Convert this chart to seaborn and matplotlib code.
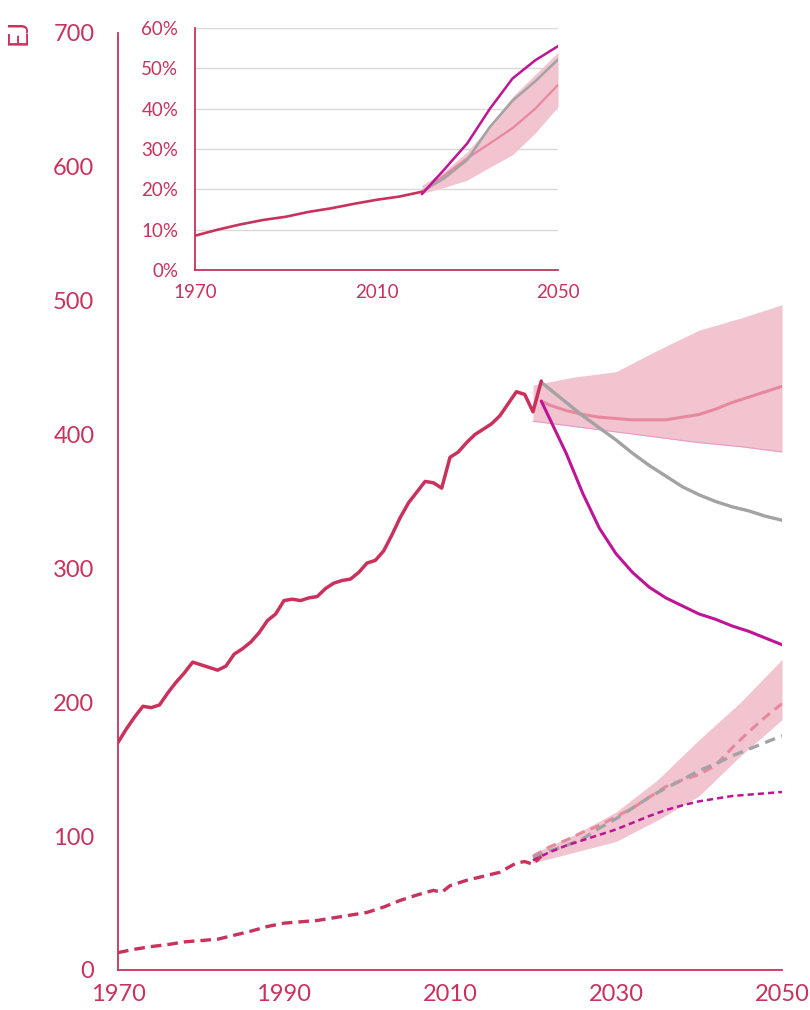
import numpy as np
import pandas as pd
import matplotlib
matplotlib.use("Agg")
import matplotlib.pyplot as plt
import seaborn as sns

# ---------------- data ----------------
hist_years = list(range(1970, 2022))
hist_solid = [170, 180, 189, 197, 196, 198, 207, 215, 222, 230, 228, 226, 224, 227, 236,
              240, 245, 252, 261, 266, 276, 277, 276, 278, 279, 285, 289, 291, 292, 297,
              304, 306, 313, 325, 338, 349, 357, 365, 364, 360, 383, 387, 394, 400, 404,
              408, 414, 423, 432, 430, 417, 440]

hist_dash_years = [1970, 1972, 1974, 1976, 1978, 1980, 1982, 1984, 1986, 1988, 1990, 1992,
                   1994, 1996, 1998, 2000, 2002, 2004, 2006, 2008, 2009, 2010, 2012, 2014,
                   2016, 2018, 2019, 2020, 2021]
hist_dash = [13, 15.5, 17.5, 19, 21, 22, 23, 26, 29, 32.5, 35, 36, 37, 39, 41, 43, 47, 52,
             56, 59.5, 58, 63, 67, 70, 73, 80, 81, 79, 85]

proj_years = [2021, 2022, 2024, 2026, 2028, 2030, 2032, 2034, 2036, 2038, 2040, 2042, 2044,
              2046, 2048, 2050]
magenta_solid = [425, 412, 386, 356, 330, 311, 297, 286, 278, 272, 266, 262, 257, 253, 248, 243]
gray_solid = [439, 434, 424, 414, 405, 396, 386, 377, 369, 361, 355, 350, 346, 343, 339, 336]
pink_solid = [425, 422, 418, 415, 413, 412, 411, 411, 411, 413, 415, 419, 424, 428, 432, 436]

low_years = [2020, 2022, 2024, 2026, 2028, 2030, 2032, 2034, 2036, 2038, 2040, 2042, 2044,
             2046, 2048, 2050]
magenta_dash = [82, 88, 93, 97, 101, 105, 110, 115, 119.5, 123, 126, 128, 130, 131, 132, 133]
gray_dash = [84, 89, 93, 98, 106, 113, 121, 129, 136, 142, 149, 154, 160, 165, 170, 175]
pink_dash = [85, 92, 97, 103, 108, 114.5, 121, 129, 137, 142, 146, 153, 166, 178, 189, 199]

band_years = [2020, 2025, 2030, 2035, 2040, 2045, 2050]
band_up_hi = [437, 443, 447, 463, 478, 487, 497]
band_up_lo = [410, 406, 402, 398, 394, 391, 387]
band_low_hi = [87, 101, 118, 142, 172, 200, 232]
band_low_lo = [80, 88, 96, 112, 130, 160, 187]

# inset (share, %)
ins_hist_years = [1970, 1975, 1980, 1985, 1990, 1995, 2000, 2005, 2010, 2015, 2020]
ins_hist = [8.5, 10.0, 11.3, 12.4, 13.2, 14.4, 15.3, 16.4, 17.4, 18.2, 19.4]
ins_years = [2020, 2025, 2030, 2035, 2040, 2045, 2050]
ins_magenta = [18.8, 25, 31.4, 40, 47.5, 52, 55.5]
ins_gray = [19.4, 22.8, 27.3, 35.5, 42, 46.8, 52.2]
ins_pink = [19.4, 23.5, 27.7, 31.4, 35.2, 40, 45.9]
ins_band_hi = [21, 24.5, 29.3, 35.8, 43, 48.5, 54]
ins_band_lo = [19, 20.5, 22.3, 25.5, 28.6, 34, 40.5]

main_xticks = [1970, 1990, 2010, 2030, 2050]
main_yticks = [0, 100, 200, 300, 400, 500, 600, 700]
ins_xticks = [1970, 2010, 2050]
ins_yticks = [0, 10, 20, 30, 40, 50, 60]
ins_ylabels = ["0%", "10%", "20%", "30%", "40%", "50%", "60%"]

# ---------------- style ----------------
CRIMSON = "#C8325C"
MAGENTA = "#BE1496"
PINK = "#E8889F"
BAND = "#F1C4D0"
GRAY = "#A3A3A3"

sns.set_theme(style="white")
plt.rcParams["font.family"] = ["Lato", "DejaVu Sans"]

fig = plt.figure(figsize=(8.1, 10.1), dpi=100)
ax = fig.add_axes([118 / 810, 40 / 1010, 664 / 810, 937 / 1010])

def line(a, x, y, color, lw, dashes=None):
    df = pd.DataFrame({"x": x, "y": y})
    l = sns.lineplot(data=df, x="x", y="y", ax=a, color=color, linewidth=lw,
                     legend=False)
    ln = l.lines[-1]
    ln.set_solid_capstyle("round")
    ln.set_solid_joinstyle("round")
    if dashes is not None:
        ln.set_dashes(dashes)

# bands
ax.fill_between(band_years, band_up_lo, band_up_hi, color=BAND, lw=0, zorder=1)
ax.plot(band_years, band_up_lo, color="#E99BC4", lw=0.8, zorder=1)
ax.fill_between(band_years, band_low_lo, band_low_hi, color=BAND, lw=0, zorder=1)

# upper group
line(ax, proj_years, pink_solid, PINK, 2.2)
line(ax, proj_years, gray_solid, GRAY, 2.4)
line(ax, proj_years, magenta_solid, MAGENTA, 2.2)
line(ax, hist_years, hist_solid, CRIMSON, 2.5)

# lower group
line(ax, low_years, pink_dash, PINK, 2.2, dashes=(3.2, 2.0))
line(ax, low_years, gray_dash, GRAY, 2.4, dashes=(3.2, 2.0))
line(ax, low_years, magenta_dash, MAGENTA, 1.8, dashes=(2.5, 1.6))
line(ax, hist_dash_years, hist_dash, CRIMSON, 2.4, dashes=(3.2, 1.8))

ax.set_xlim(1970, 2050)
ax.set_ylim(0, 700)
ax.set_xticks(main_xticks)
ax.set_yticks(main_yticks)
ax.set_xlabel("")
ax.set_ylabel("")
for s in ["top", "right"]:
    ax.spines[s].set_visible(False)
for s in ["left", "bottom"]:
    ax.spines[s].set_color(CRIMSON)
    ax.spines[s].set_linewidth(1.3)
ax.tick_params(axis="both", length=0, colors=CRIMSON, labelsize=17)
ax.tick_params(axis="y", pad=17)
ax.tick_params(axis="x", pad=10)
ax.grid(False)
ax.patch.set_alpha(0)

fig.text(19 / 810, 1 - 32 / 1010, "EJ", rotation=90, color=CRIMSON, fontsize=19,
         ha="center", va="center")

# ---------------- inset ----------------
ins = fig.add_axes([195 / 810, 740 / 1010, 363 / 810, 242 / 1010])
ins.set_facecolor("white")
ins.fill_between(ins_years, ins_band_lo, ins_band_hi, color=BAND, lw=0, zorder=1)
line(ins, ins_years, ins_pink, PINK, 1.6)
line(ins, ins_years, ins_gray, GRAY, 1.8)
line(ins, ins_years, ins_magenta, MAGENTA, 1.8)
line(ins, ins_hist_years, ins_hist, CRIMSON, 1.9)
ins.set_xlim(1970, 2050)
ins.set_ylim(0, 60)
ins.set_xticks(ins_xticks)
ins.set_yticks(ins_yticks)
ins.set_yticklabels(ins_ylabels)
ins.set_xlabel("")
ins.set_ylabel("")
ins.grid(axis="y", color="#D9D9D9", linewidth=1.0)
ins.grid(axis="x", visible=False)
ins.set_axisbelow(True)
for s in ["top", "right"]:
    ins.spines[s].set_visible(False)
for s in ["left", "bottom"]:
    ins.spines[s].set_color(CRIMSON)
    ins.spines[s].set_linewidth(1.3)
ins.tick_params(axis="both", length=0, colors=CRIMSON, labelsize=13.5)
ins.tick_params(axis="y", pad=12)
ins.tick_params(axis="x", pad=10)

fig.savefig("out.png", dpi=100)
